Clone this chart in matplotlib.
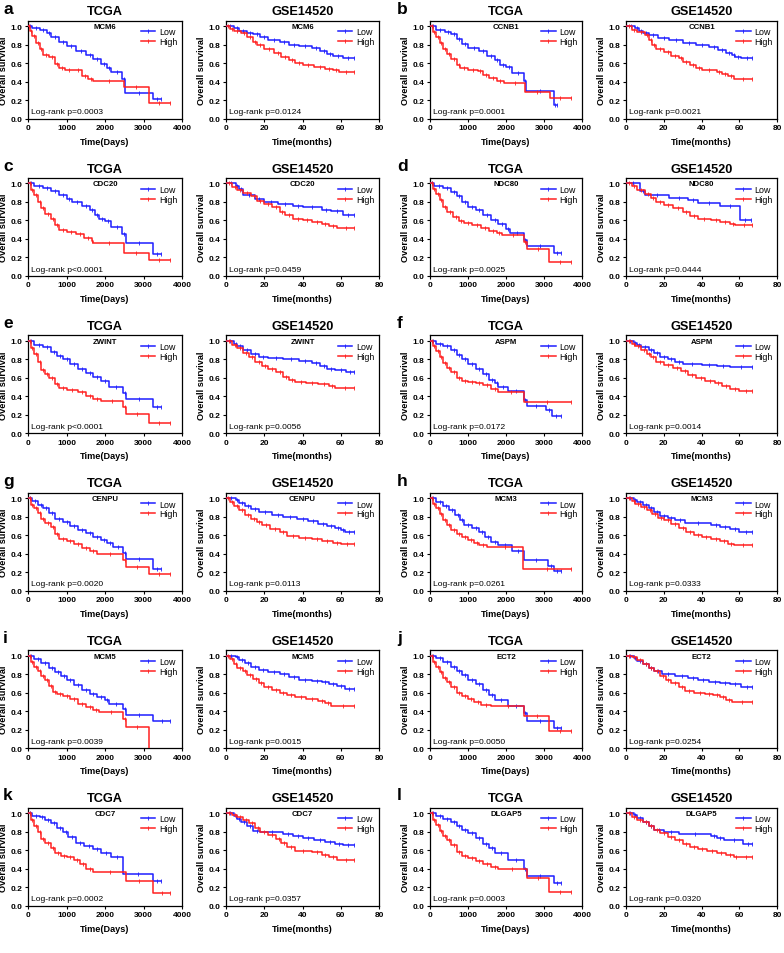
import matplotlib
matplotlib.use('Agg')
import matplotlib.pyplot as plt
from matplotlib.lines import Line2D

plt.rcParams['font.family'] = ['Liberation Sans', 'DejaVu Sans']

# ---------------- data ----------------
panel_letters = ['a', 'b', 'c', 'd', 'e', 'f', 'g', 'h', 'i', 'j', 'k', 'l']
genes = ['MCM6', 'CCNB1', 'CDC20', 'NDC80', 'ZWINT', 'ASPM',
         'CENPU', 'MCM3', 'MCM5', 'ECT2', 'CDC7', 'DLGAP5']
tcga_p = ['p=0.0003', 'p=0.0001', 'p<0.0001', 'p=0.0025', 'p<0.0001', 'p=0.0172',
          'p=0.0020', 'p=0.0261', 'p=0.0039', 'p=0.0050', 'p=0.0002', 'p=0.0003']
gse_p = ['p=0.0124', 'p=0.0021', 'p=0.0459', 'p=0.0444', 'p=0.0056', 'p=0.0014',
         'p=0.0113', 'p=0.0333', 'p=0.0015', 'p=0.0254', 'p=0.0357', 'p=0.0320']
dataset_titles = ['TCGA', 'GSE14520']
x_labels = ['Time(Days)', 'Time(months)']
tcga_xticks = [0, 1000, 2000, 3000, 4000]
gse_xticks = [0, 20, 40, 60, 80]
y_ticks = [0.0, 0.2, 0.4, 0.6, 0.8, 1.0]
group_labels = ['Low', 'High']

# (time, survival level from that time on); last entry = end of follow-up
a_tcga_low = [(0,1.0),(100,0.98),(300,0.96),(500,0.93),(600,0.88),(800,0.83),(1000,0.78),(1250,0.73),(1500,0.69),(1700,0.64),(1900,0.59),(2050,0.55),(2150,0.50),(2450,0.43),(2530,0.28),(3250,0.21),(3450,0.21)]
a_tcga_high = [(0,1.0),(50,0.95),(100,0.89),(200,0.82),(300,0.75),(400,0.69),(550,0.66),(700,0.59),(800,0.55),(950,0.53),(1200,0.52),(1400,0.46),(1550,0.43),(1700,0.41),(2500,0.34),(3130,0.17),(3700,0.17)]
a_gse_low = [(0,1.0),(4,0.98),(7,0.95),(11,0.93),(14,0.91),(18,0.88),(22,0.85),(28,0.83),(33,0.80),(38,0.78),(45,0.76),(49,0.73),(53,0.70),(56,0.68),(61,0.65),(67,0.65)]
a_gse_high = [(0,1.0),(2,0.97),(4,0.95),(8,0.92),(11,0.88),(14,0.83),(16,0.79),(20,0.75),(25,0.71),(29,0.67),(33,0.63),(36,0.60),(40,0.58),(46,0.56),(52,0.54),(56,0.52),(59,0.50),(67,0.50)]

b_tcga_low = [(0,1.0),(150,0.96),(400,0.94),(550,0.91),(700,0.86),(850,0.81),(1000,0.76),(1300,0.73),(1500,0.68),(1700,0.63),(1850,0.58),(2000,0.56),(2150,0.49),(2480,0.41),(2530,0.30),(3250,0.15),(3350,0.15)]
b_tcga_high = [(0,1.0),(80,0.94),(150,0.88),(250,0.82),(350,0.75),(450,0.70),(550,0.64),(700,0.58),(800,0.55),(1000,0.53),(1250,0.51),(1400,0.47),(1550,0.44),(1750,0.41),(1950,0.38),(2500,0.29),(3150,0.22),(3700,0.22)]
b_gse_low = [(0,1.0),(5,0.98),(7,0.95),(9,0.92),(12,0.90),(17,0.87),(23,0.85),(30,0.82),(37,0.80),(44,0.77),(49,0.74),(53,0.71),(56,0.69),(58,0.67),(61,0.65),(67,0.65)]
b_gse_high = [(0,1.0),(3,0.96),(6,0.94),(10,0.90),(12,0.85),(14,0.80),(16,0.75),(20,0.72),(24,0.68),(28,0.65),(30,0.61),(34,0.58),(37,0.55),(40,0.52),(48,0.50),(51,0.48),(54,0.46),(57,0.43),(67,0.43)]

c_tcga_low = [(0,1.0),(150,0.97),(400,0.95),(600,0.92),(800,0.88),(1000,0.83),(1150,0.80),(1400,0.76),(1600,0.71),(1750,0.66),(1850,0.62),(2000,0.59),(2150,0.53),(2450,0.45),(2540,0.36),(3250,0.24),(3450,0.24)]
c_tcga_high = [(0,1.0),(80,0.93),(150,0.87),(250,0.80),(350,0.73),(450,0.67),(600,0.62),(700,0.55),(800,0.50),(1000,0.48),(1250,0.45),(1450,0.41),(1650,0.38),(1700,0.36),(2500,0.25),(3130,0.17),(3700,0.17)]
c_gse_low = [(0,1.0),(5,0.97),(7,0.94),(9,0.88),(15,0.83),(20,0.80),(27,0.78),(35,0.76),(40,0.74),(50,0.71),(55,0.70),(61,0.66),(67,0.66)]
c_gse_high = [(0,1.0),(3,0.96),(6,0.93),(9,0.90),(13,0.86),(16,0.81),(20,0.78),(24,0.74),(28,0.69),(31,0.66),(35,0.62),(40,0.60),(45,0.58),(50,0.56),(54,0.54),(58,0.52),(67,0.52)]

d_tcga_low = [(0,1.0),(100,0.97),(350,0.95),(550,0.91),(700,0.86),(850,0.80),(1000,0.75),(1200,0.71),(1400,0.66),(1600,0.61),(1800,0.56),(2000,0.51),(2100,0.46),(2480,0.39),(2540,0.32),(3250,0.25),(3450,0.25)]
d_tcga_high = [(0,1.0),(80,0.94),(150,0.89),(250,0.82),(350,0.75),(450,0.69),(600,0.64),(750,0.59),(900,0.57),(1100,0.55),(1350,0.52),(1550,0.49),(1750,0.46),(1900,0.44),(2480,0.37),(2540,0.29),(3130,0.15),(3700,0.15)]
d_gse_low = [(0,1.0),(7.5,0.92),(10,0.87),(23,0.84),(33,0.82),(38,0.79),(50,0.76),(60.5,0.60),(66,0.60)]
d_gse_high = [(0,1.0),(3,0.97),(6,0.93),(10,0.89),(13,0.84),(16,0.80),(20,0.77),(25,0.73),(30,0.69),(34,0.65),(38,0.62),(45,0.60),(50,0.58),(55,0.56),(58,0.55),(67,0.55)]

e_tcga_low = [(0,1.0),(150,0.96),(400,0.93),(600,0.88),(750,0.84),(900,0.80),(1100,0.75),(1300,0.70),(1500,0.65),(1700,0.61),(1900,0.57),(2100,0.50),(2480,0.44),(2540,0.37),(3250,0.28),(3450,0.28)]
e_tcga_high = [(0,1.0),(80,0.92),(150,0.86),(250,0.77),(350,0.69),(450,0.64),(550,0.60),(700,0.53),(800,0.49),(1000,0.47),(1300,0.45),(1500,0.40),(1700,0.37),(1900,0.35),(2480,0.28),(2540,0.21),(3130,0.11),(3700,0.11)]
e_gse_low = [(0,1.0),(4,0.97),(6,0.94),(9,0.90),(13,0.86),(17,0.83),(22,0.81),(30,0.80),(38,0.78),(45,0.76),(49,0.73),(53,0.70),(57,0.69),(63,0.66),(67,0.66)]
e_gse_high = [(0,1.0),(3,0.96),(6,0.92),(9,0.87),(12,0.82),(15,0.77),(19,0.73),(22,0.70),(26,0.66),(30,0.61),(33,0.58),(36,0.56),(42,0.54),(48,0.53),(54,0.51),(57,0.49),(67,0.49)]

f_tcga_low = [(0,1.0),(150,0.97),(350,0.94),(550,0.90),(700,0.85),(850,0.80),(1000,0.75),(1200,0.70),(1400,0.64),(1550,0.58),(1700,0.54),(1800,0.50),(2050,0.46),(2480,0.36),(2540,0.30),(3050,0.25),(3200,0.19),(3450,0.19)]
f_tcga_high = [(0,1.0),(80,0.94),(150,0.89),(250,0.82),(350,0.76),(450,0.71),(550,0.66),(700,0.60),(850,0.57),(1000,0.56),(1200,0.54),(1400,0.52),(1600,0.48),(1800,0.45),(2480,0.34),(3700,0.34)]
f_gse_low = [(0,1.0),(4,0.98),(6,0.95),(8,0.93),(12,0.90),(15,0.87),(18,0.83),(22,0.80),(26,0.77),(30,0.75),(40,0.74),(48,0.73),(55,0.72),(67,0.72)]
f_gse_high = [(0,1.0),(3,0.97),(5,0.94),(8,0.90),(11,0.86),(13,0.82),(16,0.77),(20,0.74),(25,0.71),(29,0.67),(33,0.63),(37,0.60),(42,0.57),(47,0.54),(51,0.51),(55,0.48),(60,0.46),(67,0.46)]

g_tcga_low = [(0,1.0),(100,0.97),(250,0.93),(400,0.89),(550,0.84),(700,0.78),(900,0.74),(1100,0.70),(1300,0.66),(1500,0.62),(1700,0.58),(1900,0.55),(2050,0.52),(2200,0.47),(2480,0.41),(2540,0.34),(3250,0.23),(3450,0.23)]
g_tcga_high = [(0,1.0),(80,0.93),(150,0.89),(250,0.84),(350,0.78),(450,0.73),(600,0.69),(700,0.61),(800,0.56),(1000,0.54),(1200,0.50),(1400,0.46),(1600,0.43),(1800,0.40),(2480,0.33),(2550,0.26),(3130,0.18),(3700,0.18)]
g_gse_low = [(0,1.0),(5,0.98),(7,0.95),(10,0.92),(13,0.88),(17,0.85),(24,0.82),(30,0.80),(37,0.78),(43,0.75),(48,0.72),(53,0.70),(57,0.68),(60,0.66),(62,0.63),(67,0.63)]
g_gse_high = [(0,1.0),(2,0.96),(4,0.92),(7,0.87),(10,0.82),(13,0.78),(16,0.74),(19,0.71),(23,0.67),(28,0.63),(32,0.59),(38,0.57),(45,0.56),(50,0.54),(56,0.52),(60,0.51),(67,0.51)]

h_tcga_low = [(0,1.0),(150,0.96),(350,0.92),(500,0.87),(650,0.82),(800,0.77),(900,0.71),(1100,0.68),(1300,0.63),(1450,0.58),(1600,0.53),(1800,0.49),(2150,0.43),(2480,0.33),(3100,0.27),(3250,0.21),(3450,0.21)]
h_tcga_high = [(0,1.0),(80,0.94),(150,0.89),(250,0.83),(350,0.76),(450,0.71),(550,0.66),(700,0.61),(850,0.58),(1000,0.55),(1150,0.52),(1300,0.49),(1500,0.47),(2450,0.24),(3700,0.24)]
h_gse_low = [(0,1.0),(4,0.98),(6,0.96),(9,0.93),(12,0.89),(15,0.85),(18,0.81),(22,0.79),(26,0.76),(31,0.73),(45,0.71),(50,0.69),(55,0.67),(60,0.64),(67,0.64)]
h_gse_high = [(0,1.0),(3,0.97),(5,0.94),(8,0.91),(11,0.87),(14,0.83),(17,0.79),(20,0.76),(24,0.72),(28,0.68),(32,0.64),(36,0.60),(40,0.58),(45,0.56),(50,0.54),(54,0.51),(57,0.49),(67,0.49)]

i_tcga_low = [(0,1.0),(150,0.96),(350,0.92),(550,0.87),(700,0.82),(850,0.78),(1000,0.74),(1200,0.68),(1400,0.63),(1600,0.59),(1800,0.55),(2000,0.52),(2100,0.48),(2480,0.42),(2540,0.36),(3250,0.29),(3700,0.29)]
i_tcga_high = [(0,1.0),(80,0.93),(150,0.88),(250,0.83),(350,0.78),(450,0.74),(550,0.67),(650,0.61),(750,0.58),(900,0.56),(1100,0.53),(1300,0.48),(1500,0.44),(1700,0.41),(1850,0.39),(2480,0.32),(2540,0.23),(3130,0.0)]
i_gse_low = [(0,1.0),(5,0.98),(7,0.95),(10,0.92),(13,0.88),(17,0.85),(22,0.82),(28,0.80),(33,0.77),(38,0.74),(45,0.73),(50,0.71),(54,0.69),(58,0.67),(62,0.64),(67,0.64)]
i_gse_high = [(0,1.0),(2,0.96),(4,0.91),(6,0.87),(9,0.83),(11,0.79),(14,0.75),(17,0.70),(20,0.66),(24,0.63),(28,0.60),(32,0.57),(36,0.55),(42,0.53),(48,0.51),(52,0.49),(55,0.46),(67,0.46)]

j_tcga_low = [(0,1.0),(150,0.97),(350,0.93),(550,0.88),(700,0.83),(850,0.79),(1000,0.74),(1200,0.69),(1400,0.63),(1550,0.57),(1700,0.52),(2050,0.45),(2480,0.38),(2540,0.29),(3250,0.22),(3450,0.22)]
j_tcga_high = [(0,1.0),(80,0.93),(150,0.88),(250,0.82),(350,0.76),(450,0.71),(550,0.66),(700,0.60),(850,0.56),(1000,0.53),(1150,0.50),(1350,0.47),(1600,0.45),(2480,0.35),(3130,0.18),(3700,0.18)]
j_gse_low = [(0,1.0),(4,0.97),(6,0.94),(9,0.91),(12,0.87),(15,0.83),(19,0.80),(26,0.78),(33,0.76),(38,0.74),(44,0.72),(50,0.70),(55,0.69),(61,0.66),(67,0.66)]
j_gse_high = [(0,1.0),(3,0.98),(6,0.95),(9,0.91),(12,0.87),(15,0.83),(18,0.78),(21,0.74),(24,0.70),(28,0.66),(31,0.62),(36,0.60),(42,0.59),(46,0.57),(50,0.55),(53,0.52),(56,0.50),(67,0.50)]

k_tcga_low = [(0,1.0),(100,0.97),(300,0.96),(450,0.93),(600,0.89),(750,0.84),(900,0.79),(1050,0.74),(1250,0.68),(1450,0.64),(1700,0.61),(1900,0.57),(2150,0.52),(2480,0.34),(3250,0.26),(3450,0.26)]
k_tcga_high = [(0,1.0),(80,0.92),(150,0.86),(250,0.79),(350,0.72),(450,0.68),(600,0.62),(700,0.57),(850,0.54),(1000,0.52),(1200,0.49),(1350,0.45),(1500,0.40),(1700,0.36),(2540,0.27),(3250,0.14),(3700,0.14)]
k_gse_low = [(0,1.0),(4,0.97),(6,0.94),(8,0.90),(11,0.86),(14,0.81),(18,0.79),(30,0.77),(35,0.75),(40,0.73),(46,0.71),(52,0.69),(57,0.67),(61,0.65),(67,0.65)]
k_gse_high = [(0,1.0),(3,0.98),(6,0.96),(9,0.93),(12,0.89),(15,0.84),(18,0.80),(22,0.76),(26,0.72),(29,0.68),(32,0.63),(36,0.59),(45,0.58),(50,0.55),(54,0.52),(58,0.49),(67,0.49)]

l_tcga_low = [(0,1.0),(150,0.97),(350,0.94),(550,0.90),(700,0.86),(850,0.82),(1000,0.78),(1200,0.73),(1400,0.67),(1550,0.62),(1700,0.57),(2050,0.49),(2480,0.40),(2540,0.32),(3250,0.24),(3450,0.24)]
l_tcga_high = [(0,1.0),(80,0.93),(150,0.87),(250,0.81),(350,0.75),(450,0.71),(550,0.65),(700,0.58),(850,0.54),(1000,0.51),(1200,0.48),(1400,0.45),(1600,0.42),(1800,0.39),(2540,0.30),(3130,0.15),(3700,0.15)]
l_gse_low = [(0,1.0),(4,0.98),(6,0.95),(9,0.90),(12,0.86),(15,0.82),(20,0.80),(28,0.77),(45,0.75),(48,0.73),(52,0.71),(62,0.66),(67,0.66)]
l_gse_high = [(0,1.0),(3,0.96),(6,0.93),(9,0.90),(12,0.86),(15,0.82),(18,0.78),(22,0.74),(26,0.71),(30,0.67),(34,0.63),(38,0.61),(43,0.59),(48,0.57),(53,0.55),(57,0.53),(60,0.52),(67,0.52)]

tcga_curves = [(a_tcga_low, a_tcga_high), (b_tcga_low, b_tcga_high), (c_tcga_low, c_tcga_high),
               (d_tcga_low, d_tcga_high), (e_tcga_low, e_tcga_high), (f_tcga_low, f_tcga_high),
               (g_tcga_low, g_tcga_high), (h_tcga_low, h_tcga_high), (i_tcga_low, i_tcga_high),
               (j_tcga_low, j_tcga_high), (k_tcga_low, k_tcga_high), (l_tcga_low, l_tcga_high)]
gse_curves = [(a_gse_low, a_gse_high), (b_gse_low, b_gse_high), (c_gse_low, c_gse_high),
              (d_gse_low, d_gse_high), (e_gse_low, e_gse_high), (f_gse_low, f_gse_high),
              (g_gse_low, g_gse_high), (h_gse_low, h_gse_high), (i_gse_low, i_gse_high),
              (j_gse_low, j_gse_high), (k_gse_low, k_gse_high), (l_gse_low, l_gse_high)]

# ---------------- style / layout ----------------
BLUE = '#1E1EFF'
RED = '#FF2020'
W, H = 784, 954
DPI = 100
fig = plt.figure(figsize=(W / DPI, H / DPI), dpi=DPI)
fig.patch.set_facecolor('white')

col_left = [28, 226, 430, 626]
col_width = [154, 153, 152, 151]
row_pitch = 157.4
top0, bot0 = 21.5, 119.5


def draw_km(ax, pts, color):
    t = [p[0] for p in pts]
    s = [p[1] for p in pts]
    ax.step(t, s, where='post', color=color, lw=1.1, zorder=3)
    mt = [(t[i] + t[i + 1]) / 2 for i in range(len(t) - 1) if s[i] > 0] + ([t[-1]] if s[-1] > 0 else [])
    ms = [s[i] for i in range(len(t) - 1) if s[i] > 0] + ([s[-1]] if s[-1] > 0 else [])
    ax.plot(mt, ms, ls='none', marker='|', ms=2.8, mew=0.6, color=color, zorder=3)


def style_axes(ax, xmax, xticks, xlabel, title, gene, ptxt):
    ax.set_xlim(0, xmax)
    ax.set_ylim(0, 1.06)
    ax.set_xticks(xticks)
    ax.set_yticks(y_ticks)
    ax.set_yticklabels(['%.1f' % v for v in y_ticks])
    ax.tick_params(direction='out', length=2.5, width=0.8, labelsize=6.0, pad=1.5)
    for lab in ax.get_xticklabels() + ax.get_yticklabels():
        lab.set_fontweight('bold')
    for sp in ax.spines.values():
        sp.set_linewidth(0.9)
        sp.set_color('black')
    ax.set_xlabel(xlabel, fontsize=6.6, fontweight='bold', labelpad=4)
    ax.set_ylabel('Overall survival', fontsize=6.6, fontweight='bold', labelpad=2)
    ax.set_title(title, fontsize=9.2, fontweight='bold', pad=4.5)
    ax.text(0.5, 0.975, gene, transform=ax.transAxes, ha='center', va='top',
            fontsize=5.6, fontweight='bold')
    ax.text(0.02, 0.07, 'Log-rank ' + ptxt, transform=ax.transAxes, ha='left',
            va='center', fontsize=6.1)
    handles = [Line2D([0], [0], color=BLUE, lw=1.1, marker='|', ms=2.8, mew=0.6),
               Line2D([0], [0], color=RED, lw=1.1, marker='|', ms=2.8, mew=0.6)]
    ax.legend(handles, group_labels, loc='upper right', bbox_to_anchor=(0.97, 0.93),
              frameon=False, fontsize=6.4, handlelength=1.6, handletextpad=0.4,
              labelspacing=0.1, borderpad=0, borderaxespad=0, numpoints=1)


for k in range(12):
    r = k // 2
    side = k % 2
    top = top0 + r * row_pitch
    bot = bot0 + r * row_pitch
    for d in range(2):
        c = side * 2 + d
        ax = fig.add_axes([col_left[c] / W, 1 - bot / H, col_width[c] / W, (bot - top) / H])
        if d == 0:
            lo, hi = tcga_curves[k]
            draw_km(ax, lo, BLUE)
            draw_km(ax, hi, RED)
            style_axes(ax, 4000, tcga_xticks, x_labels[0], dataset_titles[0], genes[k], tcga_p[k])
        else:
            lo, hi = gse_curves[k]
            draw_km(ax, lo, BLUE)
            draw_km(ax, hi, RED)
            style_axes(ax, 80, gse_xticks, x_labels[1], dataset_titles[1], genes[k], gse_p[k])
    lx = 3 if side == 0 else 397
    fig.text(lx / W, 1 - (13.5 + r * row_pitch) / H, panel_letters[k], fontsize=12.5,
             fontweight='bold', ha='left', va='baseline')

fig.savefig('out.png', dpi=DPI, facecolor='white')
